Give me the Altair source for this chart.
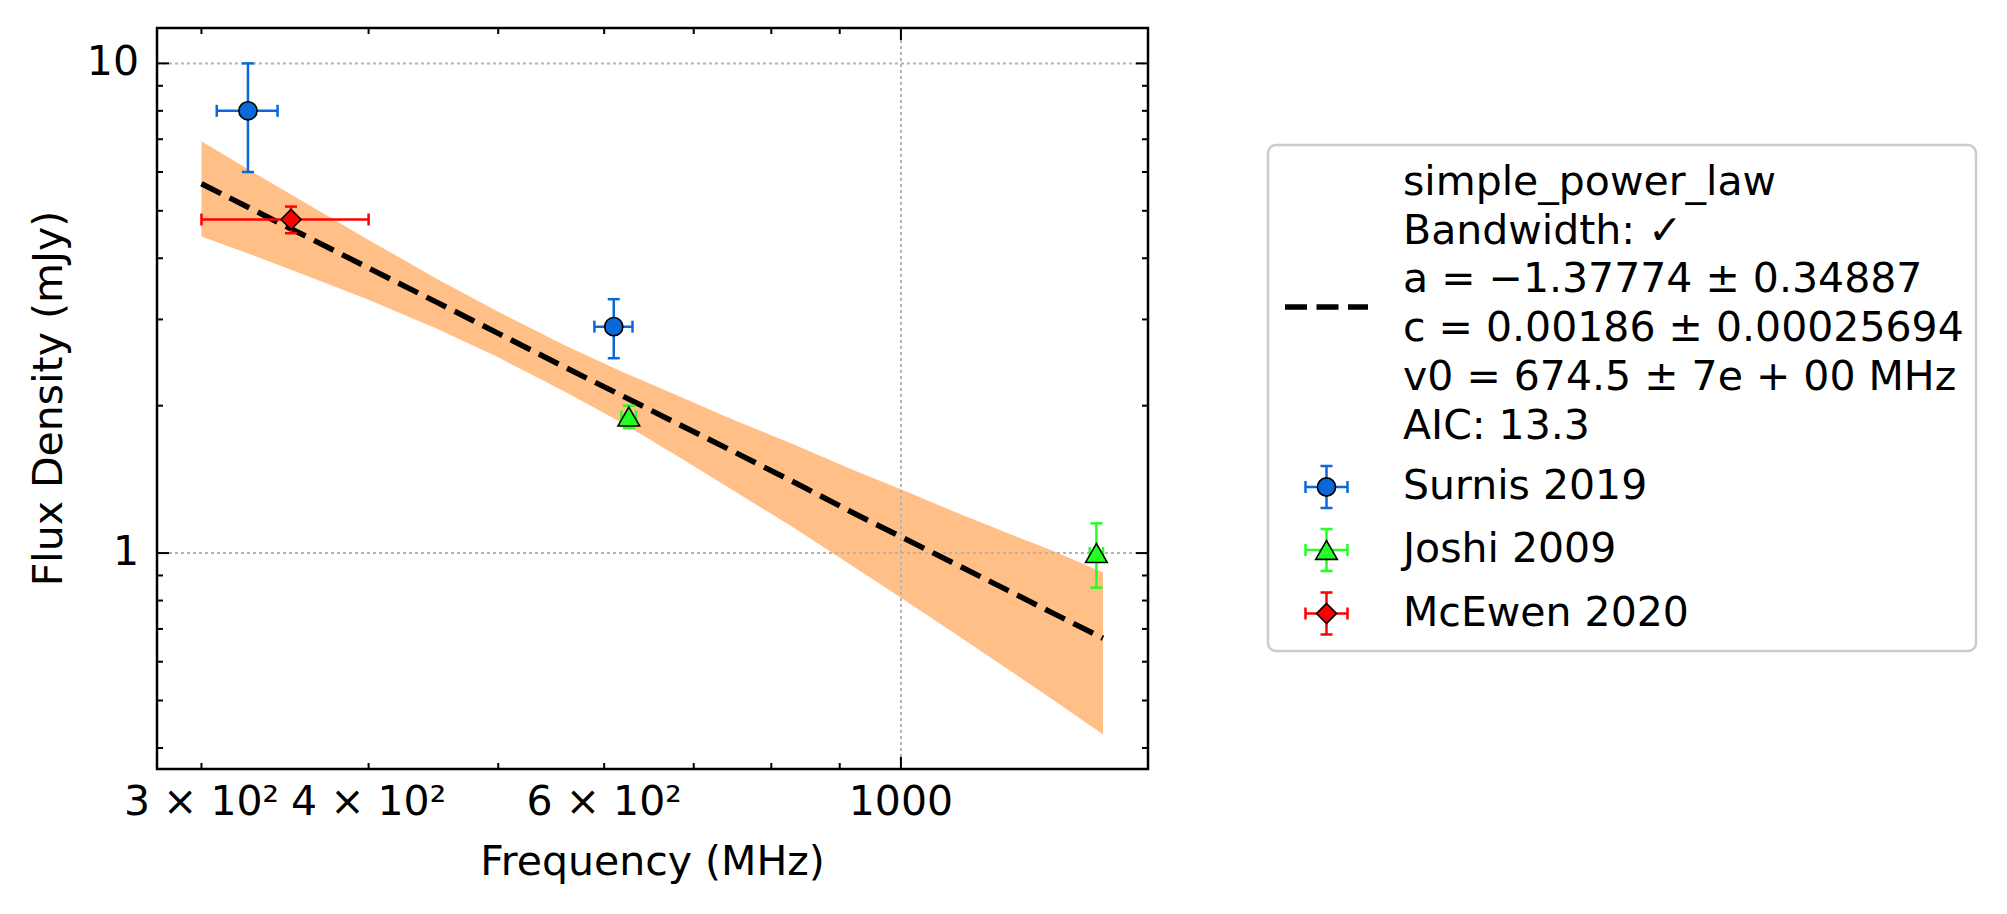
import altair as alt
import pandas as pd

FONT = "DejaVu Sans"
FS = 41
W, H = 991, 741

# ---- measured flux densities -------------------------------------------
series_names = ["Surnis 2019", "Joshi 2009", "McEwen 2020"]
series_colors = ["#0a68d8", "#22ff22", "#ff0000"]
series_shapes = ["circle", "triangle-up", "diamond"]
series_sizes = [330, 470, 400]

surnis_freq = [325, 610]
surnis_flux = [8.0, 2.9]
surnis_ferr = [17, 20]
surnis_serr = [2.0, 0.4]

joshi_freq = [626, 1400]
joshi_flux = [1.9, 1.0]
joshi_ferr = [8, 16]
joshi_serr = [0.1, 0.15]

mcewen_freq = [350]
mcewen_flux = [4.8]
mcewen_ferr = [50]
mcewen_serr = [0.3]

# ---- fitted simple power law and its uncertainty band -------------------
fit_freq = [300, 330, 360, 400, 450, 500, 560, 620, 680, 750, 830, 920,
            1000, 1100, 1200, 1300, 1416]
fit_flux = [5.68, 4.98, 4.42, 3.82, 3.25, 2.81, 2.40, 2.09, 1.84, 1.61, 1.40,
            1.21, 1.08, 0.948, 0.841, 0.753, 0.670]
fit_upper = [6.93, 5.93, 5.16, 4.36, 3.63, 3.11, 2.66, 2.34, 2.10, 1.87, 1.67,
             1.48, 1.35, 1.21, 1.10, 1.01, 0.913]
fit_lower = [4.43, 4.03, 3.68, 3.29, 2.87, 2.51, 2.14, 1.84, 1.58, 1.34, 1.13,
             0.941, 0.811, 0.682, 0.581, 0.501, 0.426]

fit_label = [
    "simple_power_law",
    "Bandwidth: \u2713",
    "a = \u22121.37774 \u00b1 0.34887",
    "c = 0.00186 \u00b1 0.00025694",
    "v0 = 674.5 \u00b1 7e + 00 MHz",
    "AIC: 13.3",
]

# ---- axis ticks ---------------------------------------------------------
x_major = [1000]
x_minor = [300, 400, 500, 600, 700, 800, 900]
y_major = [1, 10]
y_minor = [0.4, 0.5, 0.6, 0.7, 0.8, 0.9, 2, 3, 4, 5, 6, 7, 8, 9]
x_label_vals = [300, 400, 600, 1000]
x_label_text = ["3 \u00d7 10\u00b2", "4 \u00d7 10\u00b2", "6 \u00d7 10\u00b2", "1000"]
y_label_vals = [1, 10]
y_label_text = ["1", "10"]

xs = alt.Scale(type="log", domain=[277.9, 1530], nice=False)
ys = alt.Scale(type="log", domain=[0.3623, 11.81], nice=False)

one = pd.DataFrame({"k": [0]})


def X(field):
    return alt.X(field, type="quantitative", scale=xs, axis=None)


def Y(field):
    return alt.Y(field, type="quantitative", scale=ys, axis=None)


layers = []

# uncertainty band
fit_df = pd.DataFrame({"freq": fit_freq, "fit": fit_flux,
                       "lo": fit_lower, "hi": fit_upper})
layers.append(
    alt.Chart(fit_df).mark_area(color="#ffbf86", opacity=1)
    .encode(x=X("freq"), y=Y("lo"), y2="hi")
)

# dotted grid at the major ticks
grid_style = dict(color="#b3b3b3", strokeWidth=2, strokeDash=[3, 3])
layers.append(
    alt.Chart(pd.DataFrame({"v": y_major})).mark_rule(**grid_style)
    .encode(y=Y("v"), x=alt.value(0), x2=alt.value(W))
)
layers.append(
    alt.Chart(pd.DataFrame({"v": x_major})).mark_rule(**grid_style)
    .encode(x=X("v"), y=alt.value(0), y2=alt.value(H))
)

# fitted model
layers.append(
    alt.Chart(fit_df).mark_line(color="black", strokeWidth=5.5,
                                strokeDash=[22, 9.5])
    .encode(x=X("freq"), y=Y("fit"))
)

# data points with error bars
obs = [
    (surnis_freq, surnis_flux, surnis_ferr, surnis_serr),
    (joshi_freq, joshi_flux, joshi_ferr, joshi_serr),
    (mcewen_freq, mcewen_flux, mcewen_ferr, mcewen_serr),
]
EW = 2.5
CAP = 12
for name, col, shp, size, (f, s, fe, se) in zip(
        series_names, series_colors, series_shapes, series_sizes, obs):
    df = pd.DataFrame({"freq": f, "flux": s, "ferr": fe, "serr": se})
    df["flo"] = df["freq"] - df["ferr"]
    df["fhi"] = df["freq"] + df["ferr"]
    df["slo"] = df["flux"] - df["serr"]
    df["shi"] = df["flux"] + df["serr"]
    base = alt.Chart(df)
    layers.append(base.mark_rule(color=col, strokeWidth=EW)
                  .encode(x=X("flo"), x2="fhi", y=Y("flux")))
    layers.append(base.mark_rule(color=col, strokeWidth=EW)
                  .encode(x=X("freq"), y=Y("slo"), y2="shi"))
    for xf in ("flo", "fhi"):
        layers.append(base.mark_tick(color=col, orient="vertical", size=CAP,
                                     thickness=EW, opacity=1)
                      .encode(x=X(xf), y=Y("flux")))
    for yf in ("slo", "shi"):
        layers.append(base.mark_tick(color=col, orient="horizontal", size=CAP,
                                     thickness=EW, opacity=1)
                      .encode(x=X("freq"), y=Y(yf)))
    layers.append(base.mark_point(shape=shp, size=size, filled=True, fill=col,
                                  stroke="black", strokeWidth=1.6, opacity=1)
                  .encode(x=X("freq"), y=Y("flux")))

# inward ticks on all four sides
MAJ, MIN = 12, 6


def ticks_x(vals, length):
    d = alt.Chart(pd.DataFrame({"v": vals})).mark_rule(color="black", strokeWidth=2)
    return [
        d.encode(x=X("v"), y=alt.value(H), y2=alt.value(H - length)),
        d.encode(x=X("v"), y=alt.value(0), y2=alt.value(length)),
    ]


def ticks_y(vals, length):
    d = alt.Chart(pd.DataFrame({"v": vals})).mark_rule(color="black", strokeWidth=2)
    return [
        d.encode(y=Y("v"), x=alt.value(0), x2=alt.value(length)),
        d.encode(y=Y("v"), x=alt.value(W), x2=alt.value(W - length)),
    ]


layers += ticks_x(x_major, MAJ) + ticks_x(x_minor, MIN)
layers += ticks_y(y_major, MAJ) + ticks_y(y_minor, MIN)

# tick labels
txt = dict(font=FONT, fontSize=FS, color="black")
layers.append(
    alt.Chart(pd.DataFrame({"v": x_label_vals, "t": x_label_text}))
    .mark_text(align="center", baseline="alphabetic", **txt)
    .encode(x=X("v"), y=alt.value(H + 46), text="t:N")
)
layers.append(
    alt.Chart(pd.DataFrame({"v": y_label_vals, "t": y_label_text}))
    .mark_text(align="right", baseline="middle", **txt)
    .encode(y=Y("v"), x=alt.value(-18), text="t:N")
)

# axis titles
layers.append(
    alt.Chart(one).mark_text(align="center", baseline="alphabetic", **txt)
    .encode(x=alt.value(W / 2), y=alt.value(H + 106),
            text=alt.value("Frequency (MHz)"))
)
layers.append(
    alt.Chart(one).mark_text(align="center", baseline="alphabetic", angle=270, **txt)
    .encode(x=alt.value(-95), y=alt.value(H / 2),
            text=alt.value("Flux Density (mJy)"))
)

# frame around the plotting area, drawn above the data
layers.append(
    alt.Chart(one).mark_rect(fill=None, stroke="black", strokeWidth=2.5)
    .encode(x=alt.value(0), x2=alt.value(W), y=alt.value(0), y2=alt.value(H))
)

# legend (placed to the right of the axes)
LX0, LX1, LY0, LY1 = 1111, 1819, 117, 623
HX0, HX1 = 1128, 1211
HCX = (HX0 + HX1) / 2
TX = 1246
layers.append(
    alt.Chart(one).mark_rect(fill="white", stroke="#cccccc", strokeWidth=2.5,
                             cornerRadius=8)
    .encode(x=alt.value(LX0), x2=alt.value(LX1), y=alt.value(LY0), y2=alt.value(LY1))
)
layers.append(
    alt.Chart(one).mark_rule(color="black", strokeWidth=5.5, strokeDash=[22, 9.5])
    .encode(x=alt.value(HX0), x2=alt.value(HX1), y=alt.value(279))
)
layers.append(
    alt.Chart(one).mark_text(align="left", baseline="alphabetic", lineBreak="\n",
                             lineHeight=48.7, **txt)
    .encode(x=alt.value(TX), y=alt.value(167), text=alt.value("\n".join(fit_label)))
)

row_y = [459, 522, 585.5]
HALF = 21
for name, col, shp, size, cy in zip(series_names, series_colors, series_shapes,
                                    series_sizes, row_y):
    r = alt.Chart(one).mark_rule(color=col, strokeWidth=EW)
    layers.append(r.encode(x=alt.value(HCX - HALF), x2=alt.value(HCX + HALF),
                           y=alt.value(cy)))
    layers.append(r.encode(x=alt.value(HCX), y=alt.value(cy - HALF),
                           y2=alt.value(cy + HALF)))
    for dx in (-HALF, HALF):
        layers.append(r.encode(x=alt.value(HCX + dx), y=alt.value(cy - CAP / 2),
                               y2=alt.value(cy + CAP / 2)))
    for dy in (-HALF, HALF):
        layers.append(r.encode(y=alt.value(cy + dy), x=alt.value(HCX - CAP / 2),
                               x2=alt.value(HCX + CAP / 2)))
    layers.append(
        alt.Chart(one).mark_point(shape=shp, size=size, filled=True, fill=col,
                                  stroke="black", strokeWidth=1.6, opacity=1)
        .encode(x=alt.value(HCX), y=alt.value(cy))
    )
    layers.append(
        alt.Chart(one).mark_text(align="left", baseline="middle", **txt)
        .encode(x=alt.value(TX), y=alt.value(cy), text=alt.value(name))
    )

chart = (
    alt.layer(*layers)
    .properties(
        width=W, height=H,
        autosize=alt.AutoSizeParams(type="none"),
        padding={"left": 157, "top": 28, "right": 2007 - 157 - W,
                 "bottom": 914 - 28 - H},
    )
    .configure(background="white")
    .configure_view(stroke=None)
)

chart.save("out.html", embed_options={"renderer": "svg", "actions": False})
